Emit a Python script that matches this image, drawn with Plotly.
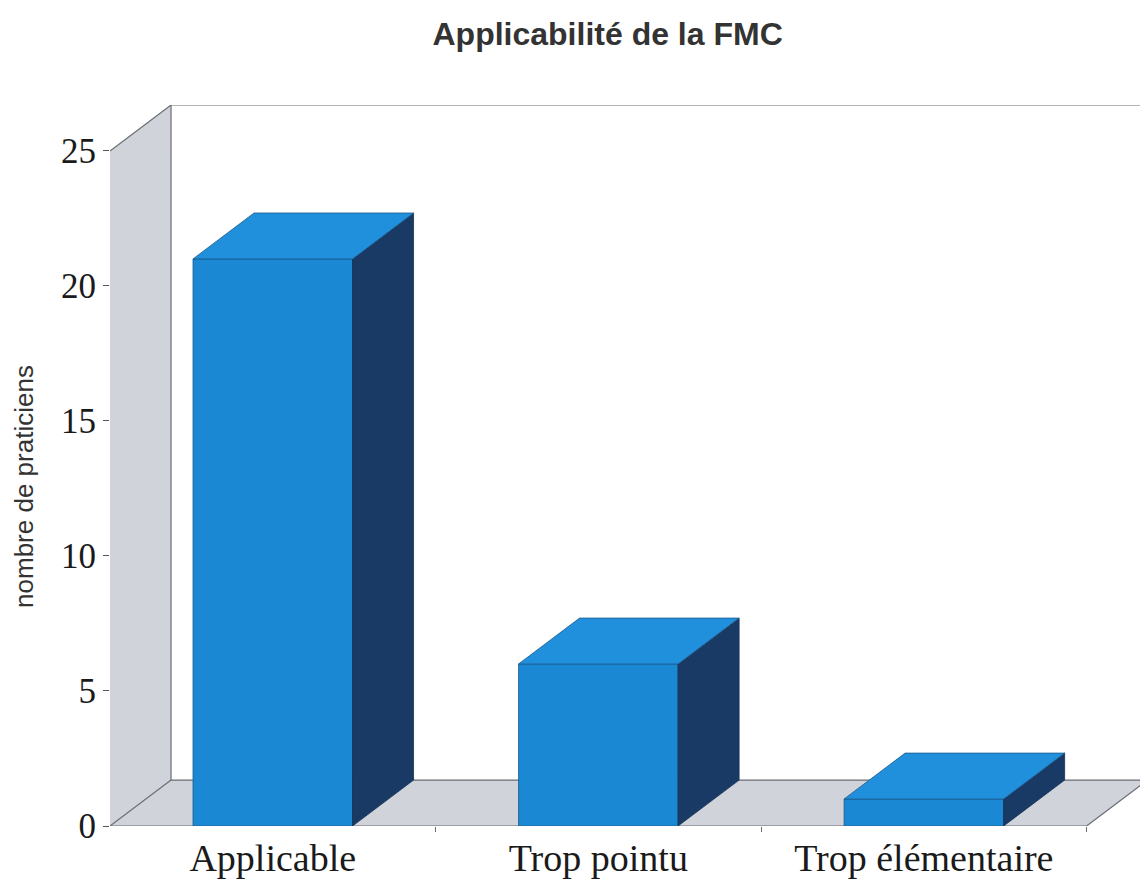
import plotly.graph_objects as go

# ---- data ----
categories = ["Applicable", "Trop pointu", "Trop élémentaire"]
values = [21, 6, 1]
y_ticks = [0, 5, 10, 15, 20, 25]
title_text = "Applicabilité de la FMC"
y_title = "nombre de praticiens"

# ---- style / geometry constants ----
W, H = 1140, 879
BAR_W = 0.49          # bar width in category units
DX = 0.1875           # depth offset (category units)
DY = 1.7              # depth offset (value units)
X0 = -0.5
X_END = len(categories) - 0.5
Y_MAX = y_ticks[-1]
FRONT = "#1b88d4"
TOP = "#2190dc"
SIDE = "#183a64"
EDGE = "#1d5a8c"
WALL = "#d0d3da"
WALL_LINE = "#6a6d73"

xs = list(range(len(categories)))

fig = go.Figure()

# ---- 3D frame as shapes below the traces ----
def path(pts):
    return "M " + " L ".join(f"{x},{y}" for x, y in pts) + " Z"

shapes = []
# left side wall
shapes.append(dict(type="path", xref="x", yref="y", layer="below",
                   path=path([(X0, 0), (X0, Y_MAX), (X0 + DX, Y_MAX + DY), (X0 + DX, DY)]),
                   fillcolor=WALL, line=dict(width=0)))
# floor
shapes.append(dict(type="path", xref="x", yref="y", layer="below",
                   path=path([(X0, 0), (X_END, 0), (X_END + DX, DY), (X0 + DX, DY)]),
                   fillcolor=WALL, line=dict(width=0)))
# frame lines
line_style = dict(color=WALL_LINE, width=1.2)
for (xa, ya, xb, yb) in [
    (X0 + DX, DY, X0 + DX, Y_MAX + DY),          # back wall left edge
    (X0 + DX, Y_MAX + DY, X_END + 1, Y_MAX + DY),  # back wall top edge
    (X0 + DX, DY, X_END + 1, DY),                # floor back edge
    (X0, 0, X_END, 0),                           # floor front edge
    (X0, 0, X0 + DX, DY),                        # floor left diagonal
    (X_END, 0, X_END + DX, DY),                  # floor right diagonal
    (X0, Y_MAX, X0 + DX, Y_MAX + DY),            # wall top diagonal
]:
    shapes.append(dict(type="line", xref="x", yref="y", layer="below",
                       x0=xa, y0=ya, x1=xb, y1=yb, line=line_style))

# ---- bar side and top faces ----
for x, v in zip(xs, values):
    l, r = x - BAR_W / 2, x + BAR_W / 2
    side = [(r, 0), (r + DX, DY), (r + DX, v + DY), (r, v), (r, 0)]
    top = [(l, v), (r, v), (r + DX, v + DY), (l + DX, v + DY), (l, v)]
    fig.add_trace(go.Scatter(x=[p[0] for p in side], y=[p[1] for p in side],
                             mode="lines", fill="toself", fillcolor=SIDE,
                             line=dict(color="#143254", width=0.8),
                             hoverinfo="skip", showlegend=False))
    fig.add_trace(go.Scatter(x=[p[0] for p in top], y=[p[1] for p in top],
                             mode="lines", fill="toself", fillcolor=TOP,
                             line=dict(color=EDGE, width=0.8),
                             hoverinfo="skip", showlegend=False))

# ---- bar front faces ----
fig.add_trace(go.Bar(x=xs, y=values, width=BAR_W,
                     marker=dict(color=FRONT, line=dict(color=EDGE, width=0.8)),
                     showlegend=False, hovertext=categories))

fig.update_layout(
    width=W, height=H,
    margin=dict(l=110, r=0, t=105, b=49),
    paper_bgcolor="white", plot_bgcolor="white",
    shapes=shapes,
    title=dict(text=f"<b>{title_text}</b>", x=0.533, xanchor="center",
               y=0.961, yanchor="middle",
               font=dict(family="Liberation Sans", size=32, color="#333333")),
    annotations=[dict(text=y_title, textangle=-90, xref="paper", yref="paper",
                      x=-0.083, y=0.471, xanchor="center", yanchor="middle",
                      showarrow=False,
                      font=dict(family="Liberation Sans", size=26, color="#333333"))],
    xaxis=dict(range=[X0, 2.664], tickmode="array", tickvals=xs, ticktext=categories,
               showgrid=False, zeroline=False, showline=False, ticks="",
               ticklabelstandoff=6,
               tickfont=dict(family="Liberation Serif", size=38, color="#1a1a1a"),
               minor=dict(tickmode="array", tickvals=[x + 0.5 for x in xs],
                          ticks="outside", ticklen=5, tickcolor=WALL_LINE)),
    yaxis=dict(range=[0, Y_MAX + DY], tickmode="array", tickvals=y_ticks,
               showgrid=False, zeroline=False, showline=False,
               ticks="outside", ticklen=6, tickcolor="#555555",
               tickfont=dict(family="Liberation Serif", size=35, color="#1a1a1a")),
)

fig.write_html("out.html")
